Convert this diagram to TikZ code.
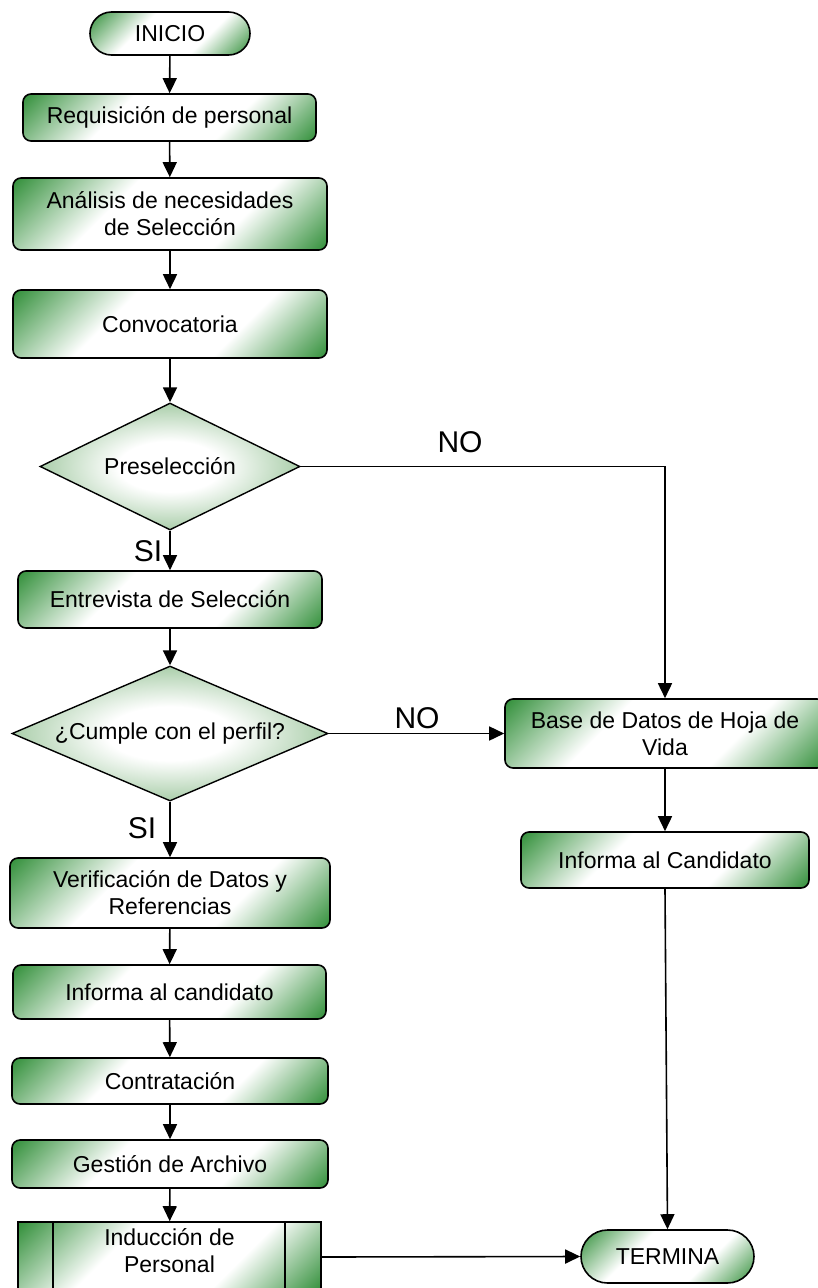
\documentclass[tikz,border=0pt]{standalone}
\usepackage{fontspec}
\setmainfont{Liberation Sans}
\usetikzlibrary{arrows.meta,shapes.geometric,shapes.misc}
\definecolor{leaf}{RGB}{44,140,52}
\definecolor{mint}{RGB}{170,206,170}
% diagonal green-white-green fill of the process boxes
\pgfdeclareverticalshading{boxfade}{100bp}{color(0bp)=(leaf); color(14bp)=(leaf); color(36bp)=(white); color(62bp)=(white); color(86bp)=(leaf); color(100bp)=(leaf)}
% pale fill of the decisions, white in the middle
\pgfdeclareradialshading{diafade}{\pgfpoint{0bp}{0bp}}{color(0bp)=(white); color(10bp)=(white); color(25bp)=(mint); color(50bp)=(mint)}
\begin{document}
\begin{tikzpicture}[x=1pt,y=-1pt,
  font=\fontsize{23}{27}\selectfont,
  box/.style={draw, line width=1.6pt, rounded corners=8pt, shading=boxfade, shading angle=45, align=center, inner sep=0pt},
  endpoint/.style={draw, line width=1.6pt, rounded rectangle, shading=boxfade, shading angle=45, inner sep=0pt},
  decision/.style={draw, line width=1.4pt, diamond, shading=diafade, inner sep=0pt},
  flow/.style={line width=1.6pt, -{Triangle[length=15pt,width=14pt]}},
  lbl/.style={font=\fontsize{30}{34}\selectfont, inner sep=0pt}
]
\useasboundingbox (0,0) rectangle (818,1288);
\clip (0,0) rectangle (818,1288);

% main column
\node[endpoint, minimum width=160pt, minimum height=43pt] (ini) at (170,33.5) {INICIO};
\node[box, minimum width=293pt, minimum height=47pt] (req) at (169.5,117.5) {Requisición de personal};
\node[box, minimum width=314pt, minimum height=72pt] (ana) at (170,214) {Análisis de necesidades\\de Selección};
\node[box, minimum width=314pt, minimum height=68pt] (conv) at (170,324) {Convocatoria};
\node[decision, aspect=2.05, minimum width=260pt, minimum height=127pt] (pre) at (170,466.5) {Preselección};
\node[box, minimum width=304pt, minimum height=57pt] (ent) at (170,599.5) {Entrevista de Selección};
\node[decision, aspect=2.34, minimum width=316pt, minimum height=135pt] (cum) at (170,733.5) {¿Cumple con el perfil?};
\node[box, minimum width=320pt, minimum height=70pt] (ver) at (170,893) {Verificación de Datos y\\Referencias};
\node[box, minimum width=313pt, minimum height=54pt] (inf) at (169.5,992) {Informa al candidato};
\node[box, minimum width=316pt, minimum height=46pt] (con) at (170,1081) {Contratación};
\node[box, minimum width=316pt, minimum height=48pt] (ges) at (170,1164) {Gestión de Archivo};

% predefined process with its two inner bars
\node[draw, line width=1.6pt, shading=boxfade, shading angle=45, minimum width=303pt, minimum height=70pt, inner sep=0pt] (ind) at (169.5,1257) {};
\draw[line width=1.6pt] ([xshift=36pt]ind.north west) -- ([xshift=36pt]ind.south west);
\draw[line width=1.6pt] ([xshift=-37pt]ind.north east) -- ([xshift=-37pt]ind.south east);
\node[align=center, inner sep=0pt] (indtxt) at (169.5,1251) {Inducción de\\Personal};

% right column
\node[box, minimum width=320pt, minimum height=69pt] (base) at (665,733.5) {Base de Datos de Hoja de\\Vida};
\node[box, minimum width=288pt, minimum height=56pt] (infc) at (665,860) {Informa al Candidato};
\node[endpoint, minimum width=173pt, minimum height=53pt] (term) at (667.5,1256.5) {TERMINA};

% connectors
\draw[flow] (ini) -- (req);
\draw[flow] (req) -- (ana);
\draw[flow] (ana) -- (conv);
\draw[flow] (conv) -- (pre);
\draw[flow] (pre) -- (ent);
\draw[flow] (ent) -- (cum);
\draw[flow] (cum) -- (ver);
\draw[flow] (ver) -- (inf);
\draw[flow] (inf) -- (con);
\draw[flow] (con) -- (ges);
\draw[flow] (ges) -- (ind);
\draw[flow] (pre.east) -- (pre.east -| base.north) -- (base.north);
\draw[flow] (cum.east) -- (base.west);
\draw[flow] (base) -- (infc);
\draw[flow] (infc.south) -- (term.north);
\draw[flow] (ind.east) -- (term.west);

% branch labels
\node[lbl] (no1) at (460,442) {NO};
\node[lbl] (no2) at (417,718) {NO};
\node[lbl] (si1) at (148,551) {SI};
\node[lbl] (si2) at (142,828) {SI};
\end{tikzpicture}
\end{document}
